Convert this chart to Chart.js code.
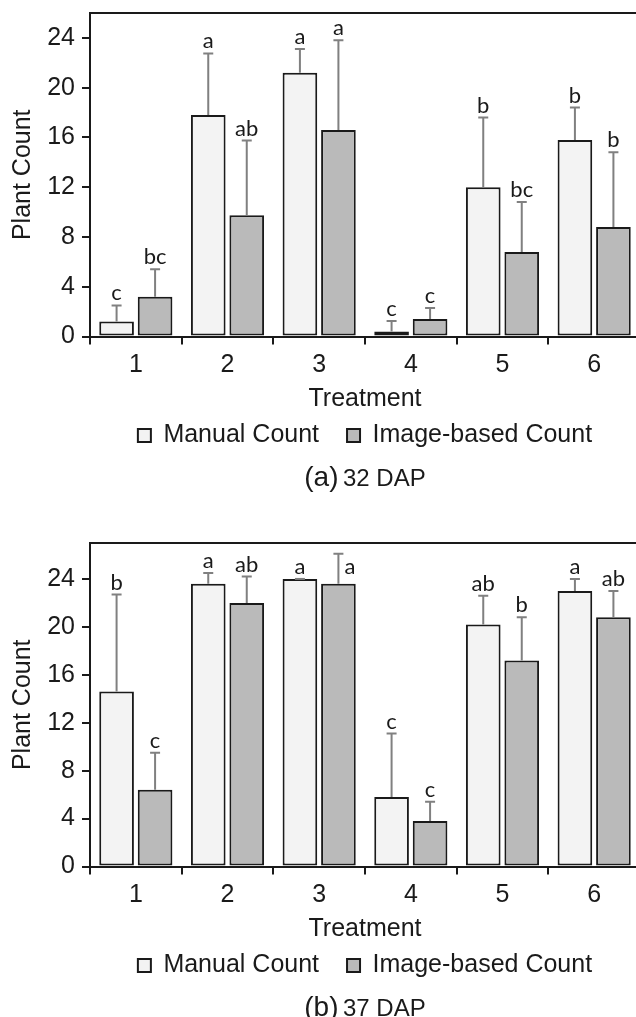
<!DOCTYPE html>
<html>
<head>
<meta charset="utf-8">
<script src="https://cdn.jsdelivr.net/npm/chart.js@4.4.1/dist/chart.umd.min.js"></script>
<style>
  html, body { margin: 0; padding: 0; background: #ffffff; width: 636px; height: 1017px; overflow: hidden; position: relative; }
  .panel { position: absolute; left: 0; width: 660px; height: 530px; }
  .panel canvas { position: absolute; left: 0; top: 0; }
  .caption { position: absolute; left: 90px; width: 550px; top: 462px; height: 30px; line-height: 30px; text-align: center; color: #1a1a1a; font-family: "Liberation Sans", Arial, sans-serif; white-space: nowrap; }
  .caption .big { font-size: 28px; }
  .caption .small { font-size: 24px; }
</style>
</head>
<body>
<div class="panel" id="p1" style="top:0px">
  <canvas id="c1" width="660" height="530"></canvas>
  <div class="caption"><span class="big">(a)</span> <span class="small">32 DAP</span></div>
</div>
<div class="panel" id="p2" style="top:530px">
  <canvas id="c2" width="660" height="530"></canvas>
  <div class="caption"><span class="big">(b)</span> <span class="small">37 DAP</span></div>
</div>
<script>
// ---------- data ----------
const treatments = ["1", "2", "3", "4", "5", "6"];
const seriesNames = ["Manual Count", "Image-based Count"];
const yTicks = [0, 4, 8, 12, 16, 20, 24];

// (a) 32 DAP
const manual32 = [1.2, 17.8, 21.2, 0.4, 12.0, 15.8];
const manual32Err = [1.3, 4.95, 1.9, 0.85, 5.6, 2.6];
const image32 = [3.2, 9.75, 16.6, 1.4, 6.8, 8.8];
const image32Err = [2.2, 6.0, 7.2, 0.9, 4.0, 6.0];
const manual32Letters = ["c", "a", "a", "c", "b", "b"];
const image32Letters = ["bc", "ab", "a", "c", "bc", "b"];

// (b) 37 DAP
const manual37 = [14.6, 23.6, 24.0, 5.8, 20.2, 23.0];
const manual37Err = [8.1, 0.9, 0.0, 5.3, 2.4, 1.0];
const image37 = [6.4, 22.0, 23.6, 3.8, 17.2, 20.8];
const image37Err = [3.1, 2.2, 2.5, 1.6, 3.6, 2.2];
const manual37Letters = ["b", "a", "a", "c", "ab", "a"];
const image37Letters = ["c", "ab", "a", "c", "b", "ab"];

// ---------- styling ----------
const INK = "#1a1a1a";
const FONT = "'Liberation Sans', Arial, sans-serif";
const LETTER_FONT = "Lato, 'Open Sans', sans-serif";
const manualFill = "#f3f3f3";
const imageFill = "#bababa";

const errorBarPlugin = {
  id: "errorBars",
  afterDatasetsDraw(chart, args, opts) {
    const ctx = chart.ctx;
    const yScale = chart.scales.y;
    chart.data.datasets.forEach((ds, di) => {
      const meta = chart.getDatasetMeta(di);
      meta.data.forEach((bar, i) => {
        const v = ds.data[i];
        const e = ds.errors[i];
        const yTop = yScale.getPixelForValue(v);
        const yErr = yScale.getPixelForValue(v + e);
        const x = bar.x;
        ctx.save();
        ctx.strokeStyle = "#808080";
        ctx.lineWidth = 2;
        ctx.beginPath();
        ctx.moveTo(x, yTop);
        ctx.lineTo(x, yErr);
        ctx.moveTo(x - 5, yErr);
        ctx.lineTo(x + 5, yErr);
        ctx.stroke();
        // significance letter
        const letter = ds.letters[i];
        ctx.fillStyle = INK;
        ctx.font = "22px " + LETTER_FONT;
        const side = (opts.sideLetters || []).some(p => p[0] === di && p[1] === i);
        ctx.textBaseline = "alphabetic";
        if (side) {
          ctx.textAlign = "left";
          ctx.fillText(letter, x + 6, yErr + 20);
        } else {
          ctx.textAlign = "center";
          ctx.fillText(letter, x, yErr - 5);
        }
        ctx.restore();
      });
    });
  }
};

const framePlugin = {
  id: "frame",
  afterDraw(chart) {
    const { ctx, chartArea } = chart;
    ctx.save();
    ctx.strokeStyle = INK;
    ctx.lineWidth = 2;
    ctx.beginPath();
    ctx.moveTo(chartArea.left, chartArea.top);
    ctx.lineTo(chartArea.right, chartArea.top);
    ctx.lineTo(chartArea.right, chartArea.bottom);
    ctx.stroke();
    ctx.restore();
  }
};

function makeChart(canvasId, manual, manualErr, manualLetters, image, imageErr, imageLetters, yMax, sideLetters) {
  return new Chart(document.getElementById(canvasId), {
    type: "bar",
    data: {
      labels: treatments,
      datasets: [
        { label: seriesNames[0], data: manual, errors: manualErr, letters: manualLetters,
          backgroundColor: manualFill, borderColor: INK, borderWidth: 2, borderSkipped: false },
        { label: seriesNames[1], data: image, errors: imageErr, letters: imageLetters,
          backgroundColor: imageFill, borderColor: INK, borderWidth: 2, borderSkipped: false }
      ]
    },
    options: {
      responsive: false,
      animation: false,
      devicePixelRatio: 1,
      categoryPercentage: 0.84,
      barPercentage: 0.9,
      layout: { padding: { top: 13, right: 20, left: 0, bottom: 72 } },
      plugins: {
        legend: {
          position: "bottom",
          fullSize: false,
          labels: {
            color: INK,
            font: { family: FONT, size: 25 },
            boxWidth: 13,
            boxHeight: 13,
            padding: 28
          }
        },
        tooltip: { enabled: false },
        errorBars: { sideLetters: sideLetters }
      },
      scales: {
        x: {
          afterFit(scale) { scale.height = 58.5; scale.paddingLeft = 0; scale.paddingRight = 0; },
          grid: { offset: true, drawOnChartArea: false, color: INK, lineWidth: 2, tickLength: 8 },
          border: { display: true, color: INK, width: 2 },
          ticks: { color: INK, font: { family: FONT, size: 25 }, padding: 6 },
          title: { display: true, text: "Treatment", color: INK, font: { family: FONT, size: 25 }, padding: { top: 0, bottom: -19 } }
        },
        y: {
          min: 0,
          max: yMax,
          afterFit(scale) { scale.width = 90; scale.paddingTop = 0; scale.paddingBottom = 0; },
          afterBuildTicks(scale) { scale.ticks = yTicks.map(v => ({ value: v })); },
          grid: { drawOnChartArea: false, color: INK, lineWidth: 2, tickLength: 8 },
          border: { display: true, color: INK, width: 2 },
          ticks: { color: INK, font: { family: FONT, size: 25 }, padding: 7 },
          title: { display: true, text: "Plant Count", color: INK, font: { family: FONT, size: 25 }, padding: { top: 8, bottom: 0 } }
        }
      }
    },
    plugins: [errorBarPlugin, framePlugin]
  });
}

makeChart("c1", manual32, manual32Err, manual32Letters, image32, image32Err, image32Letters, 26, []);
makeChart("c2", manual37, manual37Err, manual37Letters, image37, image37Err, image37Letters, 27, [[1, 2]]);
</script>
</body>
</html>
